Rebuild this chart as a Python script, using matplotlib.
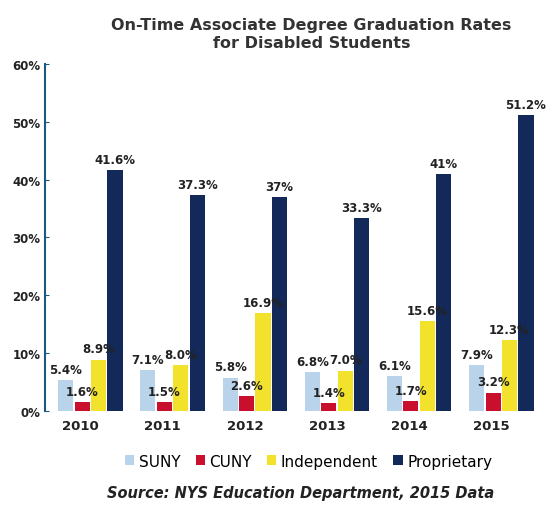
import numpy as np
import matplotlib
matplotlib.use("Agg")
import matplotlib.pyplot as plt

years = ["2010", "2011", "2012", "2013", "2014", "2015"]
suny = [5.4, 7.1, 5.8, 6.8, 6.1, 7.9]
cuny = [1.6, 1.5, 2.6, 1.4, 1.7, 3.2]
independent = [8.9, 8.0, 16.9, 7.0, 15.6, 12.3]
proprietary = [41.6, 37.3, 37.0, 33.3, 41.0, 51.2]

suny_lbl = ["5.4%", "7.1%", "5.8%", "6.8%", "6.1%", "7.9%"]
cuny_lbl = ["1.6%", "1.5%", "2.6%", "1.4%", "1.7%", "3.2%"]
ind_lbl = ["8.9%", "8.0%", "16.9%", "7.0%", "15.6%", "12.3%"]
prop_lbl = ["41.6%", "37.3%", "37%", "33.3%", "41%", "51.2%"]

names = ["SUNY", "CUNY", "Independent", "Proprietary"]
colors = ["#b9d3ea", "#c8102e", "#f3e22c", "#12295a"]

fig = plt.figure(figsize=(5.51, 5.10), dpi=100)
ax = fig.add_axes([0.082, 0.192, 0.895, 0.681])

x = np.arange(len(years))
w = 0.2
series = [suny, cuny, independent, proprietary]
labels = [suny_lbl, cuny_lbl, ind_lbl, prop_lbl]
offs = [-0.3, -0.1, 0.1, 0.3]
for vals, lbls, off, c, n in zip(series, labels, offs, colors, names):
    bars = ax.bar(x + off, vals, w * 0.92, color=c, label=n)
    for b, v, t in zip(bars, vals, lbls):
        ax.annotate(t, (b.get_x() + b.get_width() / 2, v), xytext=(0, 3),
                    textcoords="offset points", ha="center", va="bottom",
                    fontsize=8.5, fontweight="bold", color="#222222")

ax.set_ylim(0, 60)
ax.set_xlim(-0.55, 5.45)
ax.set_yticks(range(0, 61, 10))
ax.set_yticklabels([f"{v}%" for v in range(0, 61, 10)], fontsize=8.5,
                   fontweight="bold", color="#222222")
ax.set_xticks(x - 0.12)
ax.set_xticklabels(years, fontsize=9.5, fontweight="bold", color="#222222")
ax.tick_params(axis="x", length=0, pad=6)
ax.tick_params(axis="y", length=3, color="#1a5a80", direction="in")
for s in ["top", "right", "bottom"]:
    ax.spines[s].set_visible(False)
ax.spines["left"].set_color("#1a5a80")
ax.spines["left"].set_linewidth(1.5)

fig.text(0.565, 0.965, "On-Time Associate Degree Graduation Rates\nfor Disabled Students",
         ha="center", va="top", fontsize=11.5, fontweight="bold", color="#333333",
         linespacing=1.3)

fig.legend(loc="center", bbox_to_anchor=(0.56, 0.094), ncol=4, frameon=False,
           fontsize=11, handlelength=0.6, handleheight=0.6, handletextpad=0.3,
           columnspacing=1.0)

fig.text(0.545, 0.032, "Source: NYS Education Department, 2015 Data",
         ha="center", va="center", fontsize=10.5, fontstyle="italic",
         fontweight="bold", color="#222222")

fig.savefig("out.png", dpi=100)
